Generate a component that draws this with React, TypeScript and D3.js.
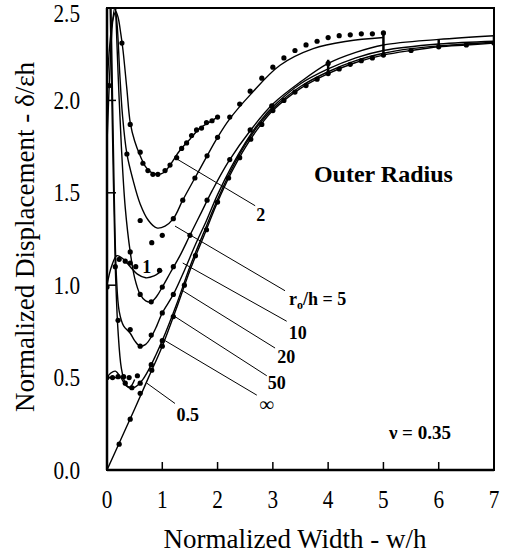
import React from "react";
import * as d3 from "d3";

type P = [number, number];

// x tick values / y tick values
const xTicks = [0, 1, 2, 3, 4, 5, 6, 7];
const yTicks = [0, 0.5, 1.0, 1.5, 2.0, 2.5];

// theory curves (w/h, δ/εh)
const lineInf: P[] = [[0,0],[0.25,0.165],[0.5,0.33],[0.75,0.5],[1,0.67],[1.25,0.87],[1.5,1.08],[1.75,1.265],[2,1.45],[2.25,1.61],[2.5,1.745],[2.75,1.855],[3,1.945],[3.5,2.065],[4,2.145],[4.5,2.205],[5,2.245],[5.5,2.27],[6,2.29],[6.5,2.3],[7,2.31]];
const line50: P[] = [[0.03,2.9],[0.07,2.3],[0.11,1.65],[0.15,1.1],[0.2,0.75],[0.26,0.55],[0.33,0.47],[0.4,0.445],[0.48,0.445],[0.56,0.46],[0.65,0.49],[0.75,0.54],[0.88,0.62],[1,0.7],[1.25,0.89],[1.5,1.1],[1.75,1.285],[2,1.465],[2.25,1.625],[2.5,1.76],[2.75,1.87],[3,1.955],[3.5,2.075],[4,2.155],[4.5,2.215],[5,2.255],[5.5,2.28],[6,2.295],[6.5,2.305],[7,2.315]];
const line20: P[] = [[0.05,2.9],[0.09,2.2],[0.13,1.5],[0.17,1.05],[0.22,0.86],[0.3,0.78],[0.42,0.74],[0.5,0.7],[0.6,0.67],[0.7,0.68],[0.8,0.72],[0.9,0.78],[1,0.85],[1.2,0.95],[1.4,1.08],[1.6,1.22],[1.8,1.35],[2,1.49],[2.25,1.64],[2.5,1.77],[2.75,1.88],[3,1.965],[3.5,2.09],[4,2.17],[4.5,2.23],[5,2.27],[6,2.305],[7,2.32]];
const line10: P[] = [[0.1,2.9],[0.15,2.55],[0.2,2.15],[0.26,1.75],[0.33,1.42],[0.42,1.18],[0.5,1.04],[0.6,0.95],[0.7,0.915],[0.8,0.91],[0.9,0.94],[1,0.99],[1.15,1.07],[1.32,1.16],[1.5,1.27],[1.7,1.39],[1.9,1.51],[2.2,1.67],[2.6,1.84],[3,1.98],[3.5,2.1],[4,2.2],[4.5,2.26],[5,2.3],[6,2.33],[7,2.35]];
const line5: P[] = [[0,1.77],[0.05,2.15],[0.1,2.42],[0.14,2.5],[0.18,2.42],[0.23,2.15],[0.28,1.92],[0.36,1.71],[0.47,1.57],[0.6,1.44],[0.75,1.35],[0.9,1.31],[1.05,1.32],[1.2,1.36],[1.37,1.46],[1.59,1.58],[1.81,1.7],[2,1.8],[2.22,1.9],[2.59,2.03],[3.13,2.19],[3.73,2.28],[4.34,2.32],[5,2.34]];
const line2: P[] = [[0,2.08],[0.05,2.3],[0.1,2.43],[0.16,2.48],[0.2,2.45],[0.25,2.36],[0.29,2.27],[0.36,2.06],[0.42,1.88],[0.5,1.78],[0.6,1.7],[0.7,1.64],[0.8,1.61],[0.92,1.6],[1.03,1.61],[1.14,1.65],[1.32,1.73],[1.5,1.79],[1.68,1.85],[1.84,1.88],[2,1.91]];
const line1: P[] = [[0,1.0],[0.08,1.1],[0.18,1.16],[0.3,1.14],[0.42,1.1],[0.55,1.06],[0.7,1.04],[0.85,1.05],[1,1.08]];
const line05: P[] = [[0,0.5],[0.07,0.525],[0.15,0.535],[0.25,0.5],[0.35,0.455],[0.42,0.45],[0.5,0.49]];

// data points
const dotsInf: P[] = [[0.22,0.14],[0.42,0.275],[0.6,0.415],[0.81,0.54],[1,0.67],[1.2,0.83],[1.4,1.0],[1.6,1.16],[1.8,1.3],[2,1.45],[2.2,1.58],[2.4,1.69],[2.6,1.79],[2.8,1.87],[3,1.945],[3.2,2.0],[3.4,2.045],[3.6,2.08],[3.8,2.115],[4,2.145],[4.2,2.17],[4.4,2.195],[4.6,2.215],[4.8,2.23],[5,2.245],[5.5,2.27],[6,2.29],[6.5,2.3],[7,2.31]];
const dots50: P[] = [[0.15,1.1],[0.33,0.47],[0.45,0.445],[0.6,0.47],[0.8,0.57],[1,0.7]];
const dots20: P[] = [[0.2,0.81],[0.42,0.76],[0.6,0.67],[0.8,0.73],[1,0.85],[1.2,0.95]];
const dots10: P[] = [[0.42,1.18],[0.6,0.95],[0.8,0.91],[1,0.99],[1.2,1.1],[1.5,1.27],[1.81,1.46],[2.22,1.68],[2.59,1.84],[2.98,1.97],[4,2.2]];
const dots5: P[] = [[0.36,1.71],[0.6,1.35],[0.81,1.23],[1,1.27],[1.2,1.36],[1.37,1.46],[1.59,1.58],[1.81,1.7],[2,1.8],[2.22,1.91],[2.4,1.98],[2.59,2.05],[2.8,2.12],[3,2.18],[3.2,2.23],[3.4,2.27],[3.6,2.3],[3.8,2.32],[4,2.34],[4.2,2.35],[4.4,2.355],[4.6,2.36],[4.8,2.36],[5,2.365]];
const dots2: P[] = [[0.04,2.08],[0.27,2.31],[0.42,1.87],[0.6,1.72],[0.65,1.66],[0.74,1.62],[0.83,1.6],[0.92,1.6],[1.05,1.62],[1.14,1.65],[1.26,1.69],[1.35,1.74],[1.44,1.77],[1.53,1.81],[1.62,1.84],[1.71,1.85],[1.8,1.88],[1.9,1.89],[2,1.91]];
const dots1: P[] = [[0,0.99],[0.22,1.14],[0.33,1.13],[0.42,1.12],[0.52,1.1],[0.95,1.08]];
const dots05: P[] = [[0,0.5],[0.1,0.5],[0.2,0.505],[0.3,0.505],[0.4,0.5],[0.55,0.51]];

// vertical bars at right end
const barX = [4, 5, 6, 7];
const barLo = [2.145, 2.245, 2.29, 2.31];
const barHi = [2.22, 2.36, 2.33, 2.35];

// leader lines: from point on curve to label end (data units)
const leaders: { from: P; to: P }[] = [
  { from: [1.28, 1.68], to: [2.68, 1.43] },
  { from: [1.23, 1.32], to: [3.22, 0.97] },
  { from: [1.37, 1.12], to: [3.25, 0.805] },
  { from: [1.37, 0.97], to: [3.04, 0.66] },
  { from: [1.23, 0.83], to: [2.89, 0.51] },
  { from: [1.05, 0.7], to: [2.71, 0.405] },
  { from: [0.72, 0.47], to: [1.23, 0.36] },
];

const x = d3.scaleLinear().domain([0, 7]).range([107, 494]);
const y = d3.scaleLinear().domain([0, 2.5]).range([470, 8]);

const lineGen = d3
  .line<P>()
  .x((d) => x(d[0]))
  .y((d) => y(d[1]))
  .curve(d3.curveCatmullRom.alpha(0.5));

const SERIF = "'Liberation Serif', 'Times New Roman', serif";

export default function App() {
  const curves = [lineInf, line50, line20, line10, line5, line2, line1, line05];
  const dots = [dotsInf, dots50, dots20, dots10, dots5, dots2, dots1, dots05];
  return (
    <svg
      width={510}
      height={556}
      style={{ position: "absolute", left: 0, top: 0, background: "#fff" }}
      fontFamily={SERIF}
    >
      <defs>
        <clipPath id="plot">
          <rect x={x(0)} y={y(2.5)} width={x(7) - x(0)} height={y(0) - y(2.5)} />
        </clipPath>
      </defs>
      <rect width={510} height={556} fill="#fff" />
      <g clipPath="url(#plot)">
        {curves.map((c, i) => (
          <path key={i} d={lineGen(c) || ""} fill="none" stroke="#000" strokeWidth={1.4} />
        ))}
        {dots.map((ds, i) =>
          ds.map((d, j) => <circle key={i + "-" + j} cx={x(d[0])} cy={y(d[1])} r={2.6} fill="#000" />)
        )}
        {barX.map((bx, i) => (
          <line key={"b" + i} x1={x(bx)} x2={x(bx)} y1={y(barLo[i])} y2={y(barHi[i])} stroke="#000" strokeWidth={2.5} />
        ))}
      </g>
      {leaders.map((l, i) => (
        <line key={"l" + i} x1={x(l.from[0])} y1={y(l.from[1])} x2={x(l.to[0])} y2={y(l.to[1])} stroke="#000" strokeWidth={1} />
      ))}
      {/* frame */}
      <rect x={x(0)} y={y(2.5)} width={x(7) - x(0)} height={y(0) - y(2.5)} fill="none" stroke="#000" strokeWidth={2} />
      <line x1={x(0)} x2={x(7)} y1={y(0)} y2={y(0)} stroke="#000" strokeWidth={2.5} />
      <line x1={x(0)} x2={x(0)} y1={y(0)} y2={y(2.5)} stroke="#000" strokeWidth={2.5} />
      {/* ticks */}
      {xTicks.slice(1, -1).map((t) => (
        <line key={"xt" + t} x1={x(t)} x2={x(t)} y1={y(0)} y2={y(0) - 8} stroke="#000" strokeWidth={1.5} />
      ))}
      {yTicks.slice(1, -1).map((t) => (
        <line key={"yt" + t} x1={x(0)} x2={x(0) + 9} y1={y(t)} y2={y(t)} stroke="#000" strokeWidth={1.5} />
      ))}
      {/* tick labels */}
      {xTicks.map((t) => (
        <text key={"xl" + t} transform={`translate(${x(t)},${y(0) + 38}) scale(0.85,1)`} textAnchor="middle" fontSize={25}>
          {t}
        </text>
      ))}
      {yTicks.map((t) => (
        <text
          key={"yl" + t}
          transform={`translate(80,${Math.max(y(t) + 8.5, 22)}) scale(0.85,1)`}
          textAnchor="end"
          fontSize={25}
        >
          {t.toFixed(1)}
        </text>
      ))}
      {/* axis titles */}
      <text x={295} y={548} textAnchor="middle" fontSize={27}>
        Normalized Width - w/h
      </text>
      <text transform={`translate(34,237) rotate(-90)`} textAnchor="middle" fontSize={27}>
        Normalized Displacement - δ/εh
      </text>
      {/* annotations */}
      <g fontWeight="bold" fontSize={18}>
        <text x={x(2.78)} y={y(1.38) + 6} textAnchor="middle">2</text>
        <text x={x(3.29)} y={y(0.92) + 5}>
          r<tspan fontSize={12} dy={4}>o</tspan>
          <tspan dy={-4}>/h = 5</tspan>
        </text>
        <text x={x(3.45)} y={y(0.74) + 6} textAnchor="middle">10</text>
        <text x={x(3.24)} y={y(0.61) + 6} textAnchor="middle">20</text>
        <text x={x(3.07)} y={y(0.47) + 6} textAnchor="middle">50</text>
        <text x={x(2.89)} y={y(0.35) + 6} textAnchor="middle" fontSize={20}>∞</text>
        <text x={x(1.46)} y={y(0.3) + 6} textAnchor="middle">0.5</text>
        <text x={x(0.72)} y={y(1.1) + 6} textAnchor="middle">1</text>
        <text x={x(5.0)} y={y(1.56)} textAnchor="middle" fontSize={24}>Outer Radius</text>
        <text x={x(5.66)} y={y(0.2) + 6} textAnchor="middle" fontSize={19}>ν = 0.35</text>
      </g>
    </svg>
  );
}
